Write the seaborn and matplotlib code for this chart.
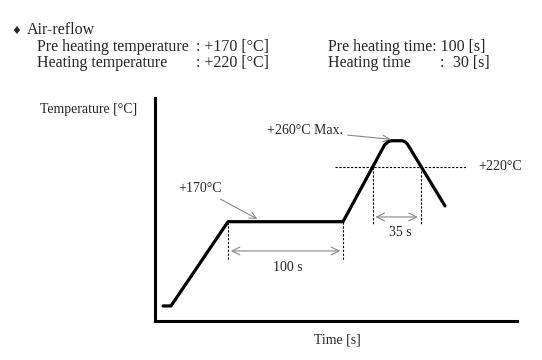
import matplotlib
matplotlib.use("Agg")
import matplotlib.pyplot as plt
import seaborn as sns
import pandas as pd

# ---- data (schematic reflow profile) ----
time_s = [7.0, 13.9, 63.5, 163.5, 199.6, 202.5, 205.5, 215.0, 218.0, 220.0, 252.2]
temp_c = [93.4, 93.4, 170.0, 170.0, 239.7, 242.6, 243.6, 243.6, 242.4, 239.7, 184.3]

preheat_temp = 170
heat_temp = 220
preheat_start, preheat_end = 63.5, 163.5
above_start, above_end = 189.3, 231.0

header_title = "Air-reflow"
header_rows = [
    ("Pre heating temperature", ": +170 [°C]", "Pre heating time: 100 [s]", None, None),
    ("Heating temperature", ": +220 [°C]", "Heating time", ":", "30 [s]"),
]

sns.set_theme(style="white")
plt.rcParams["font.family"] = ["Liberation Serif", "DejaVu Sans"]

W, H = 542, 360
fig = plt.figure(figsize=(W / 100, H / 100), dpi=100)
ax = fig.add_axes([155 / W, 1 - 321 / H, (517 - 155) / W, (321 - 98.3) / H])

df = pd.DataFrame({"t": time_s, "T": temp_c})
sns.lineplot(data=df, x="t", y="T", sort=False, color="black", lw=2.3, ax=ax)

ax.set_xlim(0, 314.8)
ax.set_ylim(79.7, 282.2)
for s in ["top", "right"]:
    ax.spines[s].set_visible(False)
for s in ["left", "bottom"]:
    ax.spines[s].set_color("black")
    ax.spines[s].set_linewidth(2.2)
ax.set_xticks([])
ax.set_yticks([])
ax.set_xlabel("")
ax.set_ylabel("")

dash = dict(color="black", lw=0.8, ls=(0, (2, 1.5)))
# 220 °C reference line
ax.plot([156.5, 271.0], [heat_temp, heat_temp], **dash)
ax.text(280.9, heat_temp, "+220°C", fontsize=10, va="center", ha="left")

# time-above-220 markers
ax.plot([above_start, above_start], [heat_temp, 167.9], **dash)
ax.plot([above_end, above_end], [heat_temp, 167.9], **dash)
ax.annotate("", xy=(above_start, 174.3), xytext=(above_end, 174.3),
            arrowprops=dict(arrowstyle="<->", color="#888888", lw=0.8,
                            mutation_scale=14))
ax.text(213.0, 160.6, "35 s", fontsize=10, ha="center", va="center")

# preheat markers
ax.plot([preheat_start, preheat_start], [preheat_temp, 135.2], **dash)
ax.plot([preheat_end, preheat_end], [preheat_temp, 135.2], **dash)
ax.annotate("", xy=(preheat_start, 143.4), xytext=(preheat_end, 143.4),
            arrowprops=dict(arrowstyle="<->", color="#888888", lw=0.8,
                            mutation_scale=14))
ax.text(115.7, 128.2, "100 s", fontsize=10, ha="center", va="center")

# peak label
ax.annotate("+260°C Max.", xy=(205.0, 244.9), xytext=(163.5, 252.5),
            fontsize=10, ha="right", va="center",
            arrowprops=dict(arrowstyle="->", color="#888888", lw=0.8,
                            mutation_scale=12, shrinkA=1, shrinkB=0))
# preheat label
ax.annotate("+170°C", xy=(89.0, 172.5), xytext=(39.0, 200.5),
            fontsize=10, ha="center", va="center",
            arrowprops=dict(arrowstyle="->", color="#888888", lw=0.8,
                            mutation_scale=12, shrinkA=2, shrinkB=0))

# axis titles
fig.text(40 / W, 1 - 110 / H, "Temperature [°C]", fontsize=10, ha="left", va="center")
fig.text(337 / W, 1 - 340 / H, "Time [s]", fontsize=10, ha="center", va="center")

# header block
hs = 11.5
fig.text(16 / W, 1 - 31 / H, "♦", fontsize=8, ha="center", va="center",
         family=["DejaVu Sans"])
fig.text(27 / W, 1 - 30 / H, header_title, fontsize=hs, ha="left", va="center")
ys = [47, 63]
for (a, b, c, d, e), y in zip(header_rows, ys):
    fig.text(37 / W, 1 - y / H, a, fontsize=hs, ha="left", va="center")
    fig.text(196 / W, 1 - y / H, b, fontsize=hs, ha="left", va="center")
    fig.text(328 / W, 1 - y / H, c, fontsize=hs, ha="left", va="center")
    if d:
        fig.text(440 / W, 1 - y / H, d, fontsize=hs, ha="left", va="center")
    if e:
        fig.text(453 / W, 1 - y / H, e, fontsize=hs, ha="left", va="center")

fig.savefig("out.png", dpi=100)
